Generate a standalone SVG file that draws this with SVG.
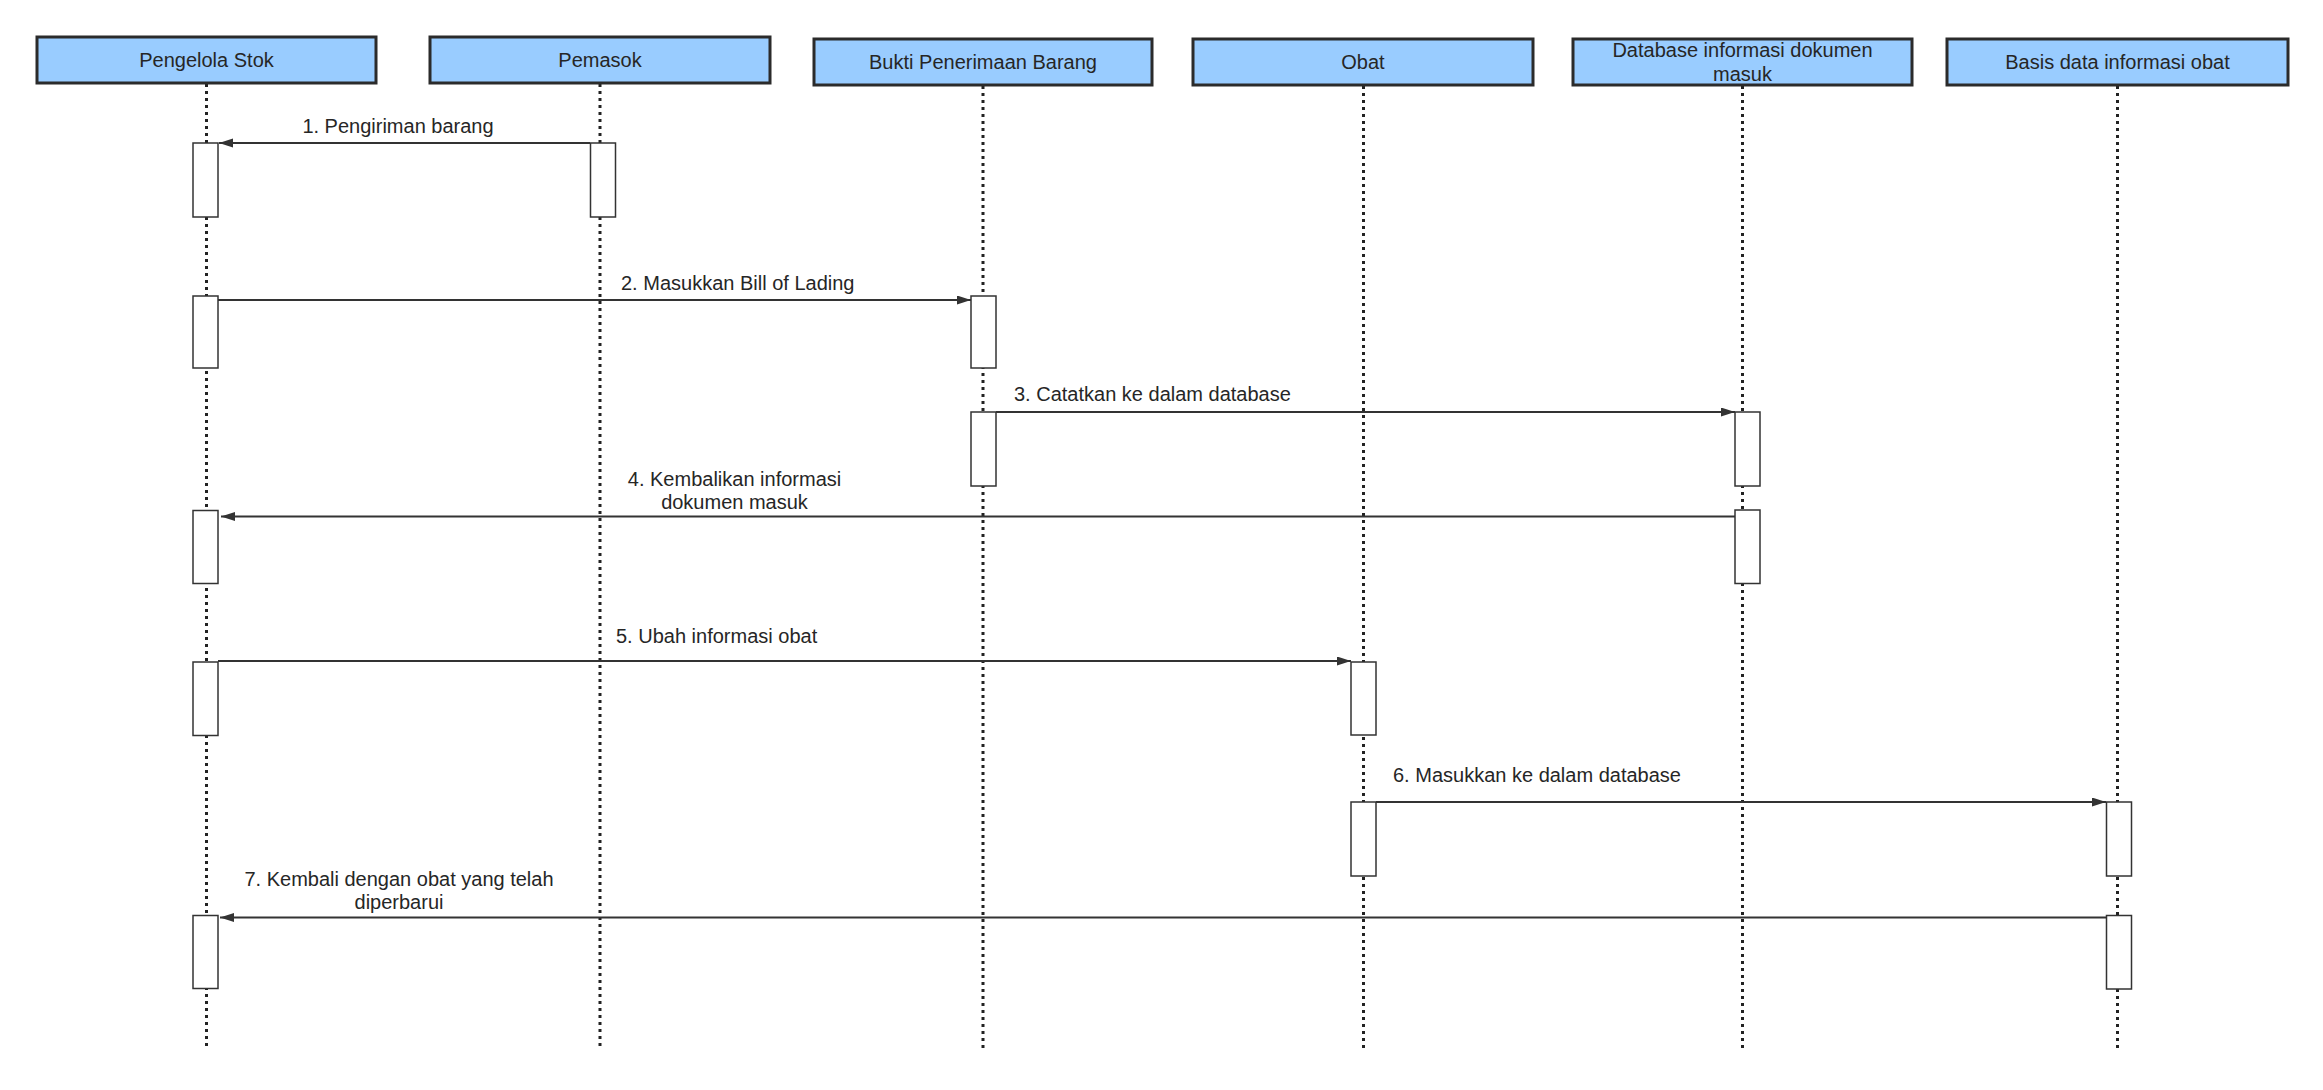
<svg xmlns="http://www.w3.org/2000/svg" width="2323" height="1090" viewBox="0 0 2323 1090">
<style>
.hdr{fill:#99CCFF;stroke:#2b2b2b;stroke-width:3}
.life{stroke:#222;stroke-width:3;stroke-dasharray:3 4;fill:none}
.act{fill:#fff;stroke:#333;stroke-width:1.5}
.msg{stroke:#333;stroke-width:2;fill:none;marker-end:url(#ah)}
text{font-family:"Liberation Sans",Arial,sans-serif;font-size:20px;fill:#262626}
.c{text-anchor:middle}
</style>
<defs>
<marker id="ah" markerUnits="userSpaceOnUse" markerWidth="15" markerHeight="10" refX="14" refY="4.5" orient="auto">
<path d="M0,0 L14,4.5 L0,9 z" fill="#333"/>
</marker>
</defs>
<rect width="2323" height="1090" fill="#fff"/>

<g id="lifelines">
<line class="life" x1="206.5" y1="84" x2="206.5" y2="1049"/>
<line class="life" x1="600" y1="84" x2="600" y2="1049"/>
<line class="life" x1="983" y1="86" x2="983" y2="1049"/>
<line class="life" x1="1363.5" y1="86" x2="1363.5" y2="1049"/>
<line class="life" x1="1742.5" y1="86" x2="1742.5" y2="1049"/>
<line class="life" x1="2117.5" y1="86" x2="2117.5" y2="1049"/>
</g>

<g id="node-pengelola-stok">
<rect class="hdr" x="37" y="37" width="339" height="46"/>
<text class="c" x="206.5" y="67">Pengelola Stok</text>
<rect class="act" x="193" y="143" width="25" height="74"/>
<rect class="act" x="193" y="296" width="25" height="72"/>
<rect class="act" x="193" y="510.5" width="25" height="73"/>
<rect class="act" x="193" y="662" width="25" height="73.5"/>
<rect class="act" x="193" y="915.5" width="25" height="73"/>
</g>

<g id="node-pemasok">
<rect class="hdr" x="430" y="37" width="340" height="46"/>
<text class="c" x="600" y="67">Pemasok</text>
<rect class="act" x="590.5" y="143" width="25" height="74"/>
</g>

<g id="node-bukti">
<rect class="hdr" x="814" y="39" width="338" height="46"/>
<text class="c" x="983" y="69">Bukti Penerimaan Barang</text>
<rect class="act" x="971" y="296" width="25" height="72"/>
<rect class="act" x="971" y="412" width="25" height="74"/>
</g>

<g id="node-obat">
<rect class="hdr" x="1193" y="39" width="340" height="46"/>
<text class="c" x="1363" y="69">Obat</text>
<rect class="act" x="1351" y="662" width="25" height="73"/>
<rect class="act" x="1351" y="802" width="25" height="74"/>
</g>

<g id="node-database">
<rect class="hdr" x="1573" y="39" width="339" height="46"/>
<text class="c" x="1742.5" y="57">Database informasi dokumen</text>
<text class="c" x="1742.5" y="81">masuk</text>
<rect class="act" x="1735" y="412" width="25" height="74"/>
<rect class="act" x="1735" y="510" width="25" height="73.5"/>
</g>

<g id="node-basis">
<rect class="hdr" x="1947" y="39" width="341" height="46"/>
<text class="c" x="2117.5" y="69">Basis data informasi obat</text>
<rect class="act" x="2106.5" y="802" width="25" height="74"/>
<rect class="act" x="2106.5" y="915.5" width="25" height="73.5"/>
</g>

<g id="connectors">
<line class="msg" x1="590" y1="143" x2="219" y2="143"/>
<text class="c" x="398" y="133">1. Pengiriman barang</text>

<line class="msg" x1="218" y1="300" x2="971" y2="300"/>
<text x="621" y="290">2. Masukkan Bill of Lading</text>

<line class="msg" x1="996" y1="412" x2="1735" y2="412"/>
<text x="1014" y="401">3. Catatkan ke dalam database</text>

<line class="msg" x1="1735" y1="516.5" x2="221" y2="516.5"/>
<text class="c" x="734.5" y="486">4. Kembalikan informasi</text>
<text class="c" x="734.5" y="509">dokumen masuk</text>

<line class="msg" x1="218" y1="661" x2="1351" y2="661"/>
<text x="616" y="643">5. Ubah informasi obat</text>

<line class="msg" x1="1376" y1="802" x2="2106" y2="802"/>
<text x="1393" y="782">6. Masukkan ke dalam database</text>

<line class="msg" x1="2106" y1="917.5" x2="220" y2="917.5"/>
<text class="c" x="399" y="885.5">7. Kembali dengan obat yang telah</text>
<text class="c" x="399" y="908.5">diperbarui</text>
</g>
</svg>
